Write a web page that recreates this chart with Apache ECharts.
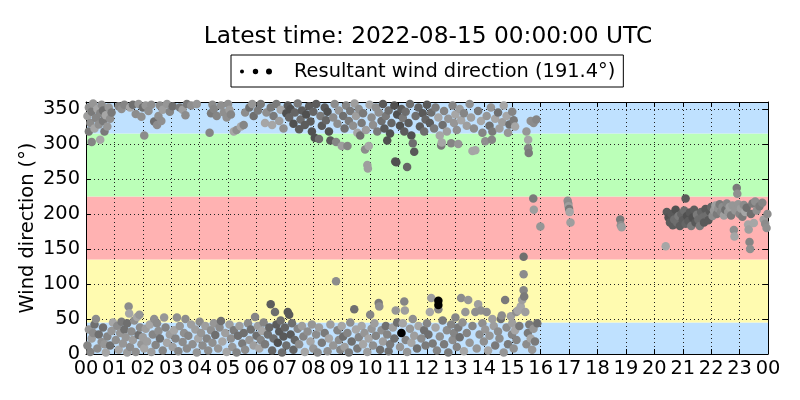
<!DOCTYPE html>
<html><head><meta charset="utf-8">
<script src="https://cdn.jsdelivr.net/npm/echarts@6/dist/echarts.min.js"></script>
<style>html,body{margin:0;padding:0;background:#fff}#c{width:800px;height:400px}</style>
</head><body><div id="c"></div>
<script>
// ---- data (hour of day, wind direction in degrees) ----
const hourLabels = ['00','01','02','03','04','05','06','07','08','09','10','11','12','13','14','15','16','17','18','19','20','21','22','23','00'];
const sectorEdges = [0, 45, 135, 225, 315, 360];
const titleText = 'Latest time: 2022-08-15 00:00:00 UTC';
const seriesName = 'Resultant wind direction (191.4°)';

const northHigh = [
[0.05,340],[0.1,352],[0.15,330],[0.2,346],[0.25,358],[0.3,322],[0.35,337],[0.4,350],[0.45,328],[0.5,344],[0.55,356],[0.6,333],[0.65,318],[0.7,341],[0.75,325],[0.8,352],[0.85,336],[0.9,345],[0.2,303],[0.5,306],[0.1,318],[0.6,348],
[1.15,354],[1.25,350],[1.35,356],[1.55,352],[1.75,343],[1.85,357],[1.95,339],[2.05,312],[2.0,352],[1.65,356],
[2.1,355],[2.2,347],[2.3,356],[2.4,332],[2.5,327],[2.55,340],[2.65,333],[2.7,349],[2.85,357],[2.6,355],[2.95,346],
[3.05,354],[3.3,352],[3.4,349],[3.5,341],[3.55,357],[3.9,357],[3.7,355],
[4.35,316],[4.4,344],[4.45,356],[4.5,350],[4.6,340],[4.75,355],[4.85,345],[4.95,338],[5.05,349],[5.0,357],[5.1,342],
[5.2,318],[5.3,320],[5.45,325],[5.55,327],[5.6,345],[5.75,352],[5.85,357],[5.9,340],[6.05,348],[6.15,357],
[6.3,330],[6.35,345],[6.5,352],[6.6,340],[6.7,357],[6.8,333],[6.85,349],[6.95,322],[7.05,344],[7.1,355],[6.55,327],
[7.15,338],[7.2,350],[7.3,329],[7.35,345],[7.45,358],[7.5,321],[7.55,335],[7.6,348],[7.7,327],[7.75,342],[7.85,354],[7.9,332],[7.95,318],[8.0,346],[8.05,309],[8.1,357],[8.2,307],
[8.25,340],[8.3,326],[8.4,352],[8.45,334],[8.5,346],[8.55,318],[8.6,305],[8.7,338],[8.75,357],[8.8,303],[8.85,329],[8.9,348],[9.0,297],[9.05,340],[9.1,322],
[9.15,355],[9.2,297],[9.25,333],[9.3,347],[9.4,326],[9.45,358],[9.5,340],[9.55,316],[9.6,350],[9.7,330],[9.75,344],[9.82,292],[9.85,320],[9.9,270],[9.92,265],[9.95,297],[9.98,356],[9.65,312],
[10.05,338],[10.1,327],[10.2,352],[10.25,318],[10.3,345],[10.4,333],[10.45,357],[10.5,322],[10.55,340],[10.65,348],[10.7,315],[10.75,330],[10.85,355],[10.88,275],[10.92,274],[10.95,342],[10.6,305],
[11.05,326],[11.1,350],[11.15,337],[11.2,318],[11.3,267],[11.25,346],[11.35,330],[11.4,357],[11.45,312],[11.5,301],[11.55,289],[11.6,340],[11.7,352],[11.75,325],[11.85,344],[11.9,318],[11.95,335],[12.0,356],
[12.1,330],[12.15,345],[12.25,322],[12.3,352],[12.4,338],[12.5,298],[12.52,302],[12.55,327],[12.6,347],[12.7,318],[12.75,336],[12.85,301],[12.9,355],[12.95,330],[13.0,342],[12.45,312],
[13.05,320],[13.1,300],[13.15,350],[13.2,334],[13.3,344],[13.4,326],[13.5,357],[13.55,338],[13.6,290],[13.7,291],[13.65,322],[13.8,347],[13.9,333],[13.95,316],
[14.05,304],[14.1,340],[14.2,326],[14.25,352],[14.3,318],[14.4,336],[14.5,345],[14.55,322],[14.65,331],[14.7,355],[14.8,340],[14.85,316],[14.9,328],[15.0,346],[14.28,306],
[15.05,334],[15.1,325],[15.5,318],[15.56,306],[15.56,294],[15.58,287],[15.65,333],[15.75,330],[15.85,335]
];

const northLow = [
[0.05,12],[0.1,35],[0.15,3],[0.2,22],[0.3,42],[0.35,50],[0.4,8],[0.45,28],[0.55,17],[0.6,38],[0.7,2],[0.75,25],[0.85,12],[0.9,33],[0.95,45],[0.25,30],[0.65,14],
[1.05,20],[1.1,40],[1.15,6],[1.2,30],[1.25,46],[1.3,15],[1.35,35],[1.4,24],[1.45,44],[1.5,68],[1.52,58],[1.55,10],[1.6,32],[1.65,20],[1.7,48],[1.75,3],[1.8,53],[1.85,27],[1.88,56],[1.9,38],[1.95,14],[1.45,2],
[2.0,24],[2.05,8],[2.1,36],[2.15,18],[2.25,42],[2.3,3],[2.35,28],[2.4,50],[2.45,13],[2.55,33],[2.6,22],[2.7,5],[2.75,52],[2.8,38],[2.85,16],[2.95,28],[2.5,44],
[3.05,10],[3.1,34],[3.15,22],[3.2,52],[3.25,4],[3.3,40],[3.4,17],[3.45,30],[3.5,50],[3.55,8],[3.6,26],[3.7,42],[3.75,14],[3.85,35],[3.9,2],[3.95,22],
[4.0,46],[4.05,30],[4.1,12],[4.2,40],[4.25,22],[4.3,5],[4.4,34],[4.45,16],[4.5,44],[4.55,27],[4.65,8],[4.7,38],[4.75,47],[4.8,18],[4.9,30],[4.95,3],
[5.05,42],[5.1,22],[5.15,10],[5.2,34],[5.3,2],[5.35,26],[5.4,40],[5.5,15],[5.55,30],[5.6,6],[5.7,44],[5.75,20],[5.8,35],[5.9,12],[5.95,53],[6.0,26],
[6.05,40],[6.1,8],[6.15,20],[6.2,33],[6.25,45],[6.3,14],[6.4,28],[6.45,38],[6.5,71],[6.55,5],[6.6,22],[6.65,60],[6.7,42],[6.75,16],[6.8,32],[6.85,48],[6.9,2],[6.95,25],
[7.0,38],[7.05,12],[7.1,60],[7.15,56],[7.2,28],[7.25,44],[7.3,6],[7.35,20],[7.45,36],[7.5,14],[7.6,40],[7.65,25],[7.7,3],[7.8,32],[7.9,18],[7.95,42],
[8.0,8],[8.1,28],[8.15,2],[8.2,38],[8.3,16],[8.4,30],[8.5,4],[8.55,22],[8.6,42],[8.7,12],[8.8,104],[8.85,34],[8.9,20],[8.95,6],
[9.0,40],[9.05,25],[9.1,10],[9.2,30],[9.25,2],[9.3,45],[9.35,18],[9.44,64],[9.5,35],[9.55,8],[9.6,24],[9.7,40],[9.75,14],[9.8,30],[9.9,3],[9.95,22],[10.0,56],
[10.05,36],[10.1,12],[10.15,44],[10.2,26],[10.3,73],[10.32,68],[10.35,6],[10.4,34],[10.45,18],[10.55,40],[10.6,28],[10.65,4],[10.7,14],[10.8,38],[10.85,22],[10.9,62],[10.95,45],
[11.05,10],[11.1,30],[11.15,44],[11.2,75],[11.22,62],[11.25,20],[11.3,3],[11.4,36],[11.45,16],[11.5,50],[11.55,26],[11.65,8],[11.7,40],[11.8,22],[11.9,34],[11.95,12],
[12.0,44],[12.05,28],[12.1,60],[12.15,80],[12.2,15],[12.3,38],[12.35,5],[12.4,64],[12.45,25],[12.55,48],[12.6,14],[12.7,34],[12.75,2],[12.85,42],[12.9,20],[12.95,30],
[13.0,52],[13.05,10],[13.1,38],[13.15,24],[13.2,80],[13.25,45],[13.3,4],[13.35,60],[13.4,30],[13.45,77],[13.5,16],[13.6,40],[13.7,60],[13.75,8],[13.8,71],[13.85,28],[13.9,62],[13.95,44],
[14.0,18],[14.05,35],[14.1,60],[14.15,5],[14.2,26],[14.3,50],[14.35,40],[14.4,12],[14.5,32],[14.55,22],[14.6,50],[14.63,55],[14.7,2],[14.75,77],[14.8,38],[14.85,14],[14.95,54],[14.99,28],
[15.0,44],[15.05,8],[15.1,34],[15.14,60],[15.15,20],[15.2,62],[15.25,40],[15.3,68],[15.35,77],[15.4,91],[15.42,82],[15.4,114],[15.4,139],[15.46,60],[15.5,14],[15.55,30],[15.6,42],[15.65,22],[15.7,6],[15.75,36],[15.8,18],[15.88,44]
];

const afternoon = [
[15.74,222],[15.76,206],[15.99,182],[16.95,219],[16.97,215],[16.98,211],[17.0,207],[17.02,203],[17.05,188],[18.8,192],[18.82,184],[18.85,181]
];

const evening = [
[20.4,154],[20.44,203],[20.5,195],[20.55,188],[20.6,200],[20.65,184],[20.7,192],[20.75,206],[20.8,188],[20.85,197],[20.9,183],[20.95,200],[21.0,191],[21.05,205],[21.1,222],[21.1,186],[21.15,197],[21.2,190],[21.25,202],[21.3,183],[21.35,195],[21.4,206],[21.45,188],[21.5,199],[21.55,192],[21.6,183],[21.65,203],[21.7,195],[21.75,188],[21.8,207],[21.85,198],[21.9,191],[21.95,204],
[22.0,210],[22.05,197],[22.1,205],[22.15,212],[22.2,200],[22.25,208],[22.3,214],[22.35,203],[22.4,210],[22.45,198],[22.5,206],[22.55,215],[22.6,203],[22.65,210],[22.7,198],[22.75,212],[22.8,177],[22.82,168],[22.85,205],[22.9,237],[22.92,229],[22.95,214],
[23.0,200],[23.05,208],[23.1,196],[23.15,213],[23.2,203],[23.25,209],[23.3,185],[23.32,178],[23.35,160],[23.37,150],[23.4,200],[23.45,215],[23.5,187],[23.55,218],[23.6,205],[23.7,211],[23.8,216],[23.85,192],[23.9,186],[23.95,180],[23.98,200]
];

const blackPoints = [[11.1,30],[12.4,76],[12.4,70]];

// ---- styling ----
const FONT = 'DejaVu Sans';
const bandColors = ['#bfe1ff','#fffbb0','#ffb2b2','#bbffb8','#bfe1ff'];
const lightGrays = ['#8c8c8c','#9e9e9e','#7a7a7a','#a6a6a6','#858585','#969696','#6f6f6f','#8f8f8f'];
const darkGrays  = ['#5c5c5c','#6e6e6e','#505050','#7a7a7a','#656565','#595959'];
function isDark(h, v){
  return (h>=7 && h<=8.6 && v>250) || (h>=10.4 && h<=12.2 && v>250) || (h>=20.4 && h<=22 && v>170) || (h>=6.4 && h<=7.4 && v<80);
}
const allPoints = northLow.concat(northHigh, afternoon, evening).sort((a,b)=>a[0]-b[0]);

const bandAreas = [];
for (let i=0;i<sectorEdges.length-1;i++){
  bandAreas.push([{yAxis: sectorEdges[i], itemStyle:{color: bandColors[i]}}, {yAxis: sectorEdges[i+1]}]);
}

const legendIcon = 'path://M0,3A2,2 0 1 1 4,3A2,2 0 1 1 0,3Z M12.8,3A2.7,2.7 0 1 1 18.2,3A2.7,2.7 0 1 1 12.8,3Z M26,3A3,3 0 1 1 32,3A3,3 0 1 1 26,3Z';
const gridDash = {color: '#222', type: [1,3], width: 1};

const chart = echarts.init(document.getElementById('c'), null, {renderer:'canvas'});
chart.setOption({
  animation: false,
  backgroundColor: '#fff',
  textStyle: {fontFamily: FONT},
  title: {
    text: titleText, left: 423, top: 20, textAlign: 'center',
    textStyle: {fontFamily: FONT, fontSize: 23.3, fontWeight: 'normal', color: '#000'}
  },
  legend: {
    data: [{name: seriesName, icon: legendIcon}],
    left: 231, top: 55,
    itemWidth: 32, itemHeight: 6,
    padding: [7, 8, 6, 9],
    borderColor: '#000', borderWidth: 1, borderRadius: 0,
    selectedMode: false,
    itemStyle: {color: '#000'},
    textStyle: {fontFamily: FONT, fontSize: 19.4, color: '#000', padding: [0,0,0,17]}
  },
  grid: {left: 86, right: 32, top: 102, bottom: 46},
  xAxis: [{
    type: 'value', min: 0, max: 24, interval: 1, z: 3,
    axisLine: {show: true, onZero: false, lineStyle: {color: '#000', width: 1}},
    axisTick: {show: true, inside: true, length: 5, lineStyle: {color: '#000'}},
    axisLabel: {margin: 5, fontFamily: FONT, fontSize: 19.4, color: '#000', formatter: v => hourLabels[v]},
    splitLine: {show: true, lineStyle: gridDash}
  },{
    type: 'value', position: 'top', min: 0, max: 24, interval: 1, z: 3,
    axisLine: {show: true, onZero: false, lineStyle: {color: '#000', width: 1}},
    axisTick: {show: true, inside: true, length: 5, lineStyle: {color: '#000'}},
    axisLabel: {show: false}, splitLine: {show: false}
  }],
  yAxis: [{
    type: 'value', min: 0, max: 360, interval: 50, z: 3,
    name: 'Wind direction (°)', nameLocation: 'middle', nameGap: 49, nameMoveOverlap: false,
    nameTextStyle: {fontFamily: FONT, fontSize: 19.4, color: '#000'},
    axisLine: {show: true, onZero: false, lineStyle: {color: '#000', width: 1}},
    axisTick: {show: true, inside: true, length: 5, lineStyle: {color: '#000'}},
    axisLabel: {margin: 6, fontFamily: FONT, fontSize: 19.4, color: '#000', showMaxLabel: false,
      formatter: v => (v % 50 === 0 && v < 360) ? String(v) : ''},
    splitLine: {show: true, lineStyle: gridDash}
  },{
    type: 'value', position: 'right', min: 0, max: 360, interval: 50, z: 3,
    axisLine: {show: true, onZero: false, lineStyle: {color: '#000', width: 1}},
    axisTick: {show: true, inside: true, length: 5, lineStyle: {color: '#000'}},
    axisLabel: {show: false}, splitLine: {show: false}
  }],
  series: [{
    name: 'bands', type: 'scatter', data: [], z: 0, silent: true,
    markArea: {silent: true, z: 0, itemStyle: {opacity: 1}, data: bandAreas}
  },{
    name: seriesName, type: 'scatter', z: 5,
    symbolSize: 8.5,
    data: allPoints,
    itemStyle: {
      opacity: 1,
      color: p => {
        const h = p.data[0], v = p.data[1];
        const k = (p.dataIndex * 5 + Math.round(v)) ;
        return isDark(h, v) ? darkGrays[k % darkGrays.length] : lightGrays[k % lightGrays.length];
      }
    }
  },{
    name: 'black', type: 'scatter', z: 6, symbolSize: 8.5,
    data: blackPoints, itemStyle: {color: '#000', opacity: 1}
  }]
});
</script>
</body></html>
